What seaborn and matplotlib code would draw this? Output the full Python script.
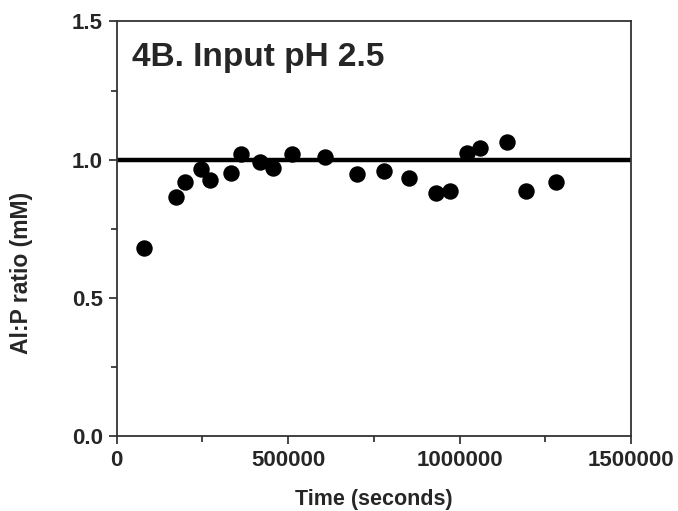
import numpy as np
import pandas as pd
import matplotlib
matplotlib.use('Agg')
import matplotlib.pyplot as plt
import seaborn as sns
from matplotlib.ticker import MultipleLocator

# datos
time_s = [80000, 173000, 200000, 247000, 273000, 334000, 362000, 418000, 456000,
          511000, 608000, 700000, 778000, 853000, 931000, 972000, 1021000,
          1058000, 1137000, 1193000, 1281000]
ratio = [0.68, 0.866, 0.918, 0.965, 0.926, 0.951, 1.021, 0.993, 0.969,
         1.021, 1.010, 0.948, 0.959, 0.934, 0.879, 0.886, 1.025,
         1.043, 1.065, 0.886, 0.919]
ref_level = 1.0
title_text = '4B. Input pH 2.5'
x_ticks = [0, 500000, 1000000, 1500000]
x_labels = ['0', '500000', '1000000', '1500000']
y_ticks = [0, 0.5, 1.0, 1.5]
y_labels = ['0.0', '0.5', '1.0', '1.5']

df = pd.DataFrame({'time': time_s, 'ratio': ratio})

sns.set_style('ticks')
plt.rcParams['font.family'] = ['Liberation Sans', 'DejaVu Sans']
plt.rcParams['font.weight'] = 'bold'

fig = plt.figure(figsize=(6.78, 5.11), dpi=100)
ax = fig.add_axes([0.172, 0.147, 0.931 - 0.172, 0.958 - 0.147])

ax.axhline(ref_level, color='black', lw=3.2, zorder=1)
sns.scatterplot(data=df, x='time', y='ratio', ax=ax, color='black',
                s=140, edgecolor='black', linewidth=0, zorder=3)

ax.set_xlim(0, 1500000)
ax.set_ylim(0, 1.5)
ax.set_xticks(x_ticks)
ax.set_xticklabels(x_labels)
ax.set_yticks(y_ticks)
ax.set_yticklabels(y_labels)
ax.xaxis.set_minor_locator(MultipleLocator(250000))
ax.yaxis.set_minor_locator(MultipleLocator(0.25))

ax.tick_params(axis='both', which='major', length=6, width=1.2, labelsize=16,
               direction='out', pad=4)
ax.tick_params(axis='both', which='minor', length=4, width=1.2, direction='out')
for lab in ax.get_xticklabels() + ax.get_yticklabels():
    lab.set_fontweight('bold')
for sp in ax.spines.values():
    sp.set_linewidth(1.3)
    sp.set_color('#333333')

ax.set_xlabel('Time (seconds)', fontsize=15.5, fontweight='bold', labelpad=13)
ax.set_ylabel('Al:P ratio (mM)', fontsize=16.5, fontweight='bold')
# la etiqueta del eje y esta algo desplazada hacia abajo en el original
ax.yaxis.set_label_coords(-0.163, 0.393)
ax.text(0.03, 0.95, title_text, transform=ax.transAxes, fontsize=24,
        fontweight='bold', va='top', ha='left')

fig.savefig('out.png', dpi=100)
